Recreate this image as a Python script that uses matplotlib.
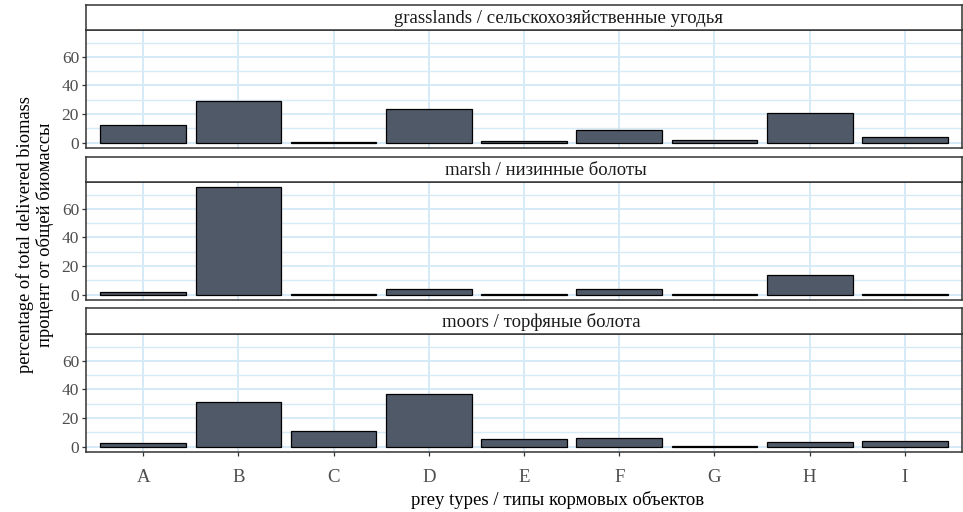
import matplotlib
matplotlib.use('Agg')
import matplotlib.pyplot as plt
from matplotlib.ticker import FixedLocator

plt.rcParams['font.family'] = ['Liberation Serif', 'DejaVu Serif']

# данные (проценты)
categories = ['A', 'B', 'C', 'D', 'E', 'F', 'G', 'H', 'I']
grasslands = [12.0, 29.0, 0.3, 23.3, 1.0, 8.6, 2.0, 21.0, 3.6]
marsh = [1.9, 75.2, 0.2, 4.2, 0.3, 3.7, 0.3, 13.6, 0.3]
moors = [2.6, 31.3, 11.2, 36.7, 5.6, 5.9, 0.3, 3.3, 4.2]
facet_titles = ['grasslands / сельскохозяйственные угодья',
                'marsh / низинные болоты',
                'moors / торфяные болота']
y_ticks = [0, 20, 40, 60]
y_minor = [10, 30, 50, 70]

W, H = 963, 512
BAR_COLOR = '#4f5968'
GRID_COLOR = '#d6eaf8'
BORDER = '#333333'


def box(x0, y0, x1, y1):
    return [x0 / W, 1 - y1 / H, (x1 - x0) / W, (y1 - y0) / H]


fig = plt.figure(figsize=(W / 100, H / 100), dpi=100)

# (strip top, panel top, panel bottom, title center x)
layout = [(5, 30, 148, 558), (157, 182, 300, 546), (308, 334, 452, 541)]
series = [grasslands, marsh, moors]
x = list(range(len(categories)))

for i, (vals, title, (s_top, p_top, p_bot, tx)) in enumerate(zip(series, facet_titles, layout)):
    ax = fig.add_axes(box(86, p_top, 962, p_bot))
    ax.bar(x, vals, width=0.9, color=BAR_COLOR, edgecolor='black', linewidth=0.9, zorder=3)
    ax.set_xlim(-0.6, len(categories) - 0.4)
    ax.set_ylim(-3.75, 78.75)
    ax.yaxis.set_major_locator(FixedLocator(y_ticks))
    ax.yaxis.set_minor_locator(FixedLocator(y_minor))
    ax.set_xticks(x)
    ax.grid(True, which='major', color=GRID_COLOR, linewidth=1.4, zorder=0)
    ax.grid(True, which='minor', axis='y', color=GRID_COLOR, linewidth=1.0, zorder=0)
    ax.set_axisbelow(True)
    for sp in ax.spines.values():
        sp.set_color(BORDER)
        sp.set_linewidth(1.1)
    ax.tick_params(axis='y', which='major', length=3, width=0.9, color=BORDER,
                   labelsize=12.5, labelcolor='#4d4d4d', pad=2)
    ax.tick_params(axis='y', which='minor', length=0)
    if i == len(series) - 1:
        ax.set_xticklabels(categories)
        ax.tick_params(axis='x', length=3, width=0.9, color=BORDER,
                       labelsize=13.5, labelcolor='#4d4d4d', pad=9.5)
    else:
        ax.tick_params(axis='x', length=0, labelbottom=False)

    st = fig.add_axes(box(86, s_top, 962, p_top))
    st.set_xticks([])
    st.set_yticks([])
    st.set_facecolor('white')
    for sp in st.spines.values():
        sp.set_color(BORDER)
        sp.set_linewidth(1.1)
    fig.text(tx / W, 1 - ((s_top + p_top) / 2 + 1) / H, title, ha='center', va='center',
             fontsize=13.5, color='#1a1a1a')

fig.text(558 / W, 1 - 500 / H, 'prey types / типы кормовых объектов',
         ha='center', va='center', fontsize=13.5, color='black')
fig.text(35 / W, 1 - 235 / H,
         'percentage of total delivered biomass\nпроцент от общей биомассы',
         ha='center', va='center', rotation=90, fontsize=13.3, color='black',
         linespacing=1.1)

fig.savefig('out.png', dpi=100)
